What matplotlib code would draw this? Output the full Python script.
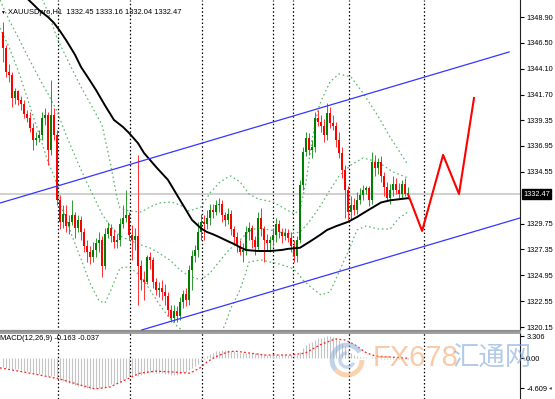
import numpy as np
import matplotlib
matplotlib.use('Agg')
from matplotlib import pyplot as plt
from matplotlib import transforms
from matplotlib.patches import Arc

plt.rcParams['font.family'] = ['Liberation Sans', 'DejaVu Sans']

# ---- XAUUSDpro H1 candles, oldest -> newest ----
open_first = 1347.5
closes = [1346.0, 1343.8, 1343.5, 1341.4, 1342.0, 1341.2, 1340.8, 1339.9, 1339.5, 1338.6,
          1337.5, 1337.7, 1338.0, 1339.5, 1339.8, 1336.6, 1339.8, 1338.0, 1331.9, 1329.9,
          1330.6, 1329.5, 1329.9, 1330.5, 1329.3, 1330.1, 1329.0, 1327.7, 1327.1, 1326.6,
          1327.3, 1327.9, 1328.2, 1325.8, 1328.8, 1329.3, 1328.6, 1328.0, 1328.2, 1329.7,
          1330.3, 1330.5, 1328.7, 1328.2, 1328.6, 1325.8, 1324.5, 1324.3, 1326.6, 1326.4,
          1324.3, 1323.6, 1323.8, 1323.4, 1323.0, 1321.7, 1321.0, 1321.6, 1321.2, 1322.5,
          1323.2, 1322.7, 1325.4, 1326.7, 1327.3, 1329.0, 1329.9, 1329.7, 1330.3, 1331.0,
          1330.8, 1331.5, 1331.6, 1330.5, 1330.1, 1330.6, 1329.2, 1328.5, 1327.7, 1327.1,
          1327.3, 1329.0, 1329.3, 1328.2, 1327.6, 1330.3, 1329.2, 1328.2, 1327.9, 1328.2,
          1328.7, 1329.7, 1329.0, 1328.6, 1328.9, 1328.4, 1327.7, 1326.7, 1328.2, 1333.3,
          1336.4, 1337.7, 1336.6, 1336.8, 1339.5, 1339.2, 1338.8, 1338.0, 1340.0, 1339.1,
          1338.8, 1337.5, 1336.3, 1334.7, 1332.9, 1330.8, 1331.5, 1331.0, 1331.9, 1332.4,
          1332.9, 1333.0, 1331.9, 1335.5, 1334.9, 1335.5, 1334.2, 1333.1, 1332.1, 1332.9,
          1333.4, 1332.9, 1332.5, 1333.4, 1332.45, 1332.47]
highs = [1348.4, 1346.3, 1344.5, 1343.8, 1342.3, 1342.1, 1341.6, 1341.2, 1340.3, 1340.1,
         1339.1, 1338.2, 1338.4, 1340.1, 1340.5, 1340.1, 1343.1, 1340.5, 1338.4, 1332.4,
         1331.5, 1331.5, 1330.5, 1331.9, 1330.8, 1330.5, 1330.4, 1329.3, 1328.2, 1327.7,
         1328.0, 1328.4, 1329.0, 1328.6, 1329.3, 1329.9, 1329.7, 1329.2, 1328.8, 1330.3,
         1331.5, 1332.9, 1330.8, 1329.6, 1329.3, 1336.1, 1326.4, 1325.3, 1326.8, 1327.1,
         1326.6, 1324.7, 1324.3, 1324.5, 1324.1, 1323.4, 1322.2, 1322.2, 1322.1, 1322.9,
         1323.6, 1323.8, 1325.9, 1327.3, 1327.8, 1329.9, 1330.6, 1330.5, 1331.0, 1331.6,
         1331.6, 1331.9, 1332.1, 1331.9, 1330.8, 1331.2, 1331.0, 1329.5, 1329.0, 1328.2,
         1327.9, 1329.5, 1329.9, 1329.6, 1328.6, 1330.8, 1331.2, 1329.5, 1328.8, 1328.6,
         1329.3, 1330.3, 1330.1, 1329.3, 1329.3, 1329.2, 1329.0, 1328.2, 1328.6, 1333.8,
         1336.8, 1338.2, 1338.1, 1337.5, 1340.1, 1340.3, 1339.8, 1339.4, 1340.9, 1340.6,
         1339.8, 1339.2, 1338.2, 1336.8, 1335.2, 1333.2, 1332.3, 1332.1, 1332.7, 1333.0,
         1333.3, 1333.2, 1333.2, 1336.4, 1336.1, 1335.8, 1336.0, 1334.5, 1333.6, 1333.4,
         1334.2, 1334.0, 1333.5, 1333.8, 1334.0, 1333.16]
lows = [1344.7, 1343.3, 1342.9, 1340.6, 1340.8, 1340.7, 1340.3, 1339.5, 1339.2, 1338.2,
        1336.6, 1337.0, 1337.3, 1337.5, 1338.9, 1335.2, 1336.1, 1337.5, 1331.5, 1329.2,
        1329.3, 1329.0, 1328.8, 1329.6, 1328.4, 1329.0, 1328.2, 1327.1, 1326.2, 1326.0,
        1326.2, 1326.6, 1327.1, 1324.8, 1325.5, 1328.4, 1328.0, 1327.5, 1327.5, 1327.7,
        1329.3, 1329.9, 1328.2, 1326.4, 1327.3, 1322.2, 1323.6, 1322.7, 1324.1, 1325.5,
        1323.8, 1323.1, 1322.9, 1322.7, 1322.2, 1321.2, 1320.6, 1320.6, 1320.6, 1320.8,
        1321.9, 1322.1, 1322.2, 1323.6, 1326.2, 1326.6, 1328.2, 1328.2, 1329.2, 1329.6,
        1330.3, 1330.5, 1330.8, 1329.9, 1329.5, 1329.7, 1328.7, 1327.9, 1327.1, 1326.8,
        1326.2, 1326.8, 1328.2, 1327.5, 1326.8, 1327.3, 1328.6, 1326.2, 1327.3, 1327.1,
        1327.7, 1328.0, 1328.4, 1327.9, 1328.2, 1328.0, 1327.1, 1326.2, 1326.2, 1327.9,
        1332.9, 1336.0, 1336.1, 1335.8, 1336.4, 1338.8, 1338.2, 1337.3, 1337.5, 1338.6,
        1338.4, 1336.8, 1335.8, 1334.0, 1330.3, 1330.1, 1330.1, 1330.5, 1330.6, 1331.6,
        1331.9, 1332.5, 1331.4, 1331.6, 1334.2, 1334.3, 1333.6, 1332.3, 1331.8, 1331.6,
        1332.3, 1332.5, 1332.1, 1332.1, 1332.3, 1332.04]

# moving average (black), read at bar positions
ma_bars = [7, 10, 12, 15, 17, 19, 21, 24, 26, 29, 31, 34, 37, 40, 42, 45, 47, 51, 55, 59,
           63, 66, 68, 70, 72, 75, 77, 79, 81, 85, 89, 93, 95, 97, 99, 101, 103, 106, 108,
           111, 115, 118, 120, 123, 126, 129, 132, 135]
ma_vals = [1350.9, 1350.1, 1349.55, 1348.9, 1348.35, 1347.6, 1346.77, 1345.4, 1344.27, 1343.0,
           1342.13, 1340.7, 1339.35, 1338.7, 1338.15, 1337.2, 1336.29, 1335.0, 1333.79, 1331.93,
           1330.08, 1329.3, 1328.96, 1328.75, 1328.5, 1328.1, 1327.85, 1327.55, 1327.29, 1327.2,
           1327.2, 1327.3, 1327.4, 1327.45, 1327.5, 1327.85, 1328.2, 1328.75, 1329.15, 1329.5,
           1329.9, 1330.35, 1330.7, 1331.2, 1331.7, 1331.9, 1332.0, 1332.1]

# Bollinger bands (green dotted), read at bar positions
bb_up_bars = [12, 15, 18, 22, 26, 29, 33, 36, 38, 39, 42, 46, 49, 52, 56, 59, 62, 66, 69, 72,
              75, 76, 79, 82, 85, 90, 94, 97, 99, 101, 103, 105, 106, 109, 112, 116, 120, 125,
              129, 132, 135]
bb_up_vals = [1351.2, 1349.37, 1346.96, 1344.64, 1342.41, 1340.93, 1338.89, 1335.09, 1332.12,
              1331.19, 1330.91, 1330.82, 1331.28, 1331.65, 1331.75, 1331.47, 1330.91, 1331.28,
              1332.58, 1333.51, 1334.07, 1334.16, 1333.6, 1332.49, 1332.03, 1331.75, 1331.1,
              1330.64, 1331.0, 1333.6, 1337.5, 1340.28, 1341.11, 1342.88, 1343.62, 1343.34,
              1341.86, 1339.72, 1337.77, 1336.48, 1335.18]
bb_mid_bars = [-1, 2, 5, 8, 12, 15, 18, 21, 25, 28, 30, 33, 36, 39, 42, 46, 49, 52, 56, 59,
               62, 66, 69, 72, 75, 79, 82, 85, 89, 92, 96, 99, 102, 106, 109, 112, 116, 120,
               125, 130, 135]
bb_mid_vals = [1350.48, 1348.63, 1347.05, 1345.38, 1343.25, 1341.76, 1340.19, 1337.96, 1335.36,
               1333.51, 1332.4, 1330.63, 1329.43, 1328.59, 1328.22, 1327.76, 1327.48, 1327.02,
               1326.27, 1325.44, 1324.88, 1324.51, 1325.16, 1326.18, 1327.2, 1328.22, 1329.06,
               1329.34, 1329.15, 1328.96, 1328.78, 1328.96, 1329.89, 1331.47, 1332.86, 1334.16,
               1335.18, 1335.83, 1335.46, 1334.53, 1333.97]
bb_lo_bars = [-1, 2, 5, 8, 12, 15, 17, 18, 19, 21, 23, 26, 29, 32, 34, 36, 38, 39, 42, 46,
              49, 52, 55, 58, 61, 66, 71, 74, 76, 79, 81, 82, 86, 89, 92, 96, 98, 100, 103,
              106, 109, 112, 116, 118, 121, 125, 129, 132, 135]
bb_lo_vals = [1347.88, 1346.12, 1343.99, 1341.48, 1338.05, 1335.46, 1334.16, 1333.32, 1331.47,
              1330.26, 1328.59, 1326.46, 1324.23, 1322.57, 1322.38, 1323.59, 1324.98, 1325.63,
              1325.72, 1324.88, 1323.59, 1322.29, 1321.17, 1320.25, 1319.5, 1318.76, 1318.76,
              1320.34, 1321.92, 1323.59, 1325.25, 1326.18, 1326.37, 1326.18, 1326.0, 1325.63,
              1325.25, 1324.51, 1323.77, 1323.12, 1323.4, 1325.25, 1327.76, 1329.15, 1329.52,
              1329.24, 1329.24, 1330.26, 1330.82]

# channel lines (bar, price)
chan_up_bars = [-1, 168.7]
chan_up_vals = [1331.65, 1345.66]
chan_lo_bars = [46.3, 172.3]
chan_lo_vals = [1319.88, 1330.26]

# forecast path (red)
fc_bars = [135, 139.7, 146.7, 152, 157]
fc_vals = [1332.47, 1329.06, 1336.11, 1332.49, 1341.39]

# period separators (bar positions)
separators = [18.33, 42.33, 66.33, 90, 96.67, 115.33, 140.33]

price_ticks = [1348.90, 1346.50, 1344.10, 1341.70, 1339.35, 1336.95, 1334.55,
               1329.75, 1327.35, 1324.95, 1322.55, 1320.15]
last_price = 1332.47

# MACD(12,26,9)
macd_main = [-1.4, -1.5, -1.5, -1.6, -1.6, -1.7, -1.8, -1.9, -2.0, -2.1, -2.3, -2.4,
             -2.5, -2.5, -2.6, -2.7, -2.7, -2.8, -3.0, -3.3, -3.5, -3.7, -3.8, -3.9,
             -4.1, -4.2, -4.3, -4.5, -4.6, -4.7, -4.7, -4.6, -4.5, -4.6, -4.4, -4.2,
             -4.0, -3.9, -3.8, -3.6, -3.3, -3.0, -2.8, -2.7, -2.6, -2.7, -2.6, -2.5,
             -2.3, -2.2, -2.2, -2.3, -2.3, -2.3, -2.4, -2.5, -2.6, -2.6, -2.6, -2.4,
             -2.2, -2.1, -1.8, -1.5, -1.2, -0.9, -0.5, -0.1, 0.3, 0.6, 0.8, 1.0,
             1.1, 1.2, 1.2, 1.2, 1.1, 1.0, 0.9, 0.8, 0.8, 0.8, 0.8, 0.7,
             0.7, 0.7, 0.6, 0.6, 0.5, 0.5, 0.5, 0.5, 0.5, 0.4, 0.4, 0.4,
             0.4, 0.3, 0.4, 0.9, 1.5, 2.0, 2.3, 2.5, 2.8, 3.0, 3.1, 3.2,
             3.3, 3.3, 3.2, 3.0, 2.7, 2.3, 1.8, 1.2, 0.8, 0.5, 0.3, 0.2,
             0.1, 0.1, 0.0, 0.1, 0.1, 0.0, -0.1, -0.1, -0.2, -0.2, -0.1, -0.1,
             -0.1, -0.2, -0.2, -0.163]
sig_bars = [-1, 9, 19, 25.7, 30.7, 35.7, 42.3, 45.7, 50.7, 55.7, 62.3, 65.7, 68, 70.7,
            74.7, 77.3, 82.3, 87.3, 95.7, 100.7, 105.7, 110.7, 114, 117.3, 120.7, 124, 129, 135]
sig_vals = [-1.5, -2.3, -3.2, -4.1, -4.7, -4.4, -3.0, -2.3, -2.0, -2.1, -2.3, -1.5, -0.6, 0.15,
            0.9, 1.05, 0.75, 0.45, 0.45, 0.75, 2.0, 2.9, 2.75, 2.0, 0.9, 0.3, 0.15, -0.037]
macd_ticks = [3.306, 0.0, -4.609]
macd_labels = ['3.306', '0.00', '-4.609']

W, H = 555, 399
fig = plt.figure(figsize=(W / 100, H / 100), dpi=100)
ax = fig.add_axes([0, (H - 331) / H, 520 / W, 331 / H])
axm = fig.add_axes([0, 0, 520 / W, 66 / H])

x = np.arange(len(closes))
c = np.array(closes)
o = np.concatenate([[open_first], c[:-1]])
hi = np.maximum(np.array(highs), np.maximum(o, c))
lo = np.minimum(np.array(lows), np.minimum(o, c))
up = c >= o

for a in (ax, axm):
    a.set_xlim(-1, 172.33)
    for s in separators:
        a.axvline(s, color='black', lw=0.9, ls=(0, (1.2, 1.8)), zorder=1)

# price line
ax.axhline(last_price, color='#c8c8c8', lw=1.2, zorder=1)

# bollinger bands
band_style = dict(color='#5cb870', lw=0.9, ls=(0, (1.3, 2.2)), zorder=2)
ax.plot(bb_up_bars, bb_up_vals, **band_style)
ax.plot(bb_mid_bars, bb_mid_vals, **band_style)
ax.plot(bb_lo_bars, bb_lo_vals, **band_style)

# candles
ax.vlines(x[up], lo[up], hi[up], color='#2e9a2e', lw=0.7, zorder=3)
ax.vlines(x[~up], lo[~up], hi[~up], color='#ff3030', lw=0.7, zorder=3)
body_b = np.minimum(o, c)
body_h = np.maximum(np.abs(c - o), 0.06)
ax.bar(x[up], body_h[up], bottom=body_b[up], width=0.62, color='#008000', lw=0, zorder=4)
ax.bar(x[~up], body_h[~up], bottom=body_b[~up], width=0.62, color='#ff0000', lw=0, zorder=4)

ax.plot(ma_bars, ma_vals, color='black', lw=1.4, zorder=5)
ax.plot(chan_up_bars, chan_up_vals, color='#3636ff', lw=0.9, zorder=5)
ax.plot(chan_lo_bars, chan_lo_vals, color='#3636ff', lw=0.9, zorder=5)
ax.plot(fc_bars, fc_vals, color='#ff0000', lw=1.5, zorder=5)

ax.set_ylim(1319.78, 1350.48)
ax.set_xticks([])
ax.yaxis.tick_right()
ax.set_yticks(price_ticks)
ax.set_yticklabels(['%.2f' % p for p in price_ticks])
ax.tick_params(axis='y', length=3, width=0.8, pad=1.5, labelsize=5.3)
for s in ('left', 'top'):
    ax.spines[s].set_visible(False)
ax.spines['right'].set_color('#202020')
ax.spines['bottom'].set_color('#909090')
ax.spines['bottom'].set_linewidth(1.6)

blend = transforms.blended_transform_factory(ax.transAxes, ax.transData)
ax.text(1.006, last_price, '%.2f' % last_price, transform=blend, color='white', fontsize=5.3,
        ha='left', va='center', zorder=10,
        bbox=dict(boxstyle='square,pad=0.2', facecolor='black', edgecolor='black'))

ax.text(8 / 520, 1 - 12 / 331, 'XAUUSDpro,H1  1332.45 1333.16 1332.04 1332.47',
        transform=ax.transAxes, fontsize=5.4, va='center', ha='left', zorder=2)
ax.text(0.0, 1 - 12 / 331, '\u25bc', transform=ax.transAxes, fontsize=3.5, va='center',
        ha='left', zorder=2)

# MACD panel
axm.vlines(x, 0, macd_main, color='#c4c4c4', lw=0.8, zorder=2)
axm.plot(sig_bars, sig_vals, color='#ff2020', lw=0.9, ls=(0, (1.5, 1.8)), zorder=3)
axm.set_ylim(-6.23, 3.8)
axm.set_xticks([])
axm.yaxis.tick_right()
axm.set_yticks(macd_ticks)
axm.set_yticklabels(macd_labels)
axm.tick_params(axis='y', length=3, width=0.8, pad=1.5, labelsize=5.3)
for s in ('left', 'bottom'):
    axm.spines[s].set_visible(False)
axm.spines['right'].set_color('#202020')
axm.spines['top'].set_color('#909090')
axm.spines['top'].set_linewidth(1.2)
axm.text(0.0, 1 - 6 / 66, 'MACD(12,26,9) -0.163 -0.037', transform=axm.transAxes,
         fontsize=5.4, va='center', ha='left')

# watermark
logo_c = (347 / W, 1 - 360 / H)
fig.add_artist(Arc(logo_c, 30 / W, 30 / H, theta1=40, theta2=230, transform=fig.transFigure,
                   color='#8fb0dc', lw=3.5, alpha=0.55))
fig.add_artist(Arc(logo_c, 30 / W, 30 / H, theta1=230, theta2=360, transform=fig.transFigure,
                   color='#f4b070', lw=3.5, alpha=0.55))
fig.add_artist(Arc(logo_c, 14 / W, 14 / H, theta1=90, theta2=330, transform=fig.transFigure,
                   color='#8fb0dc', lw=2.5, alpha=0.5))
fig.text(373 / W, 1 - 358 / H, 'FX678', fontsize=21, color='#f4a060', alpha=0.55,
         va='center', ha='left', family=['Liberation Sans Narrow', 'Liberation Sans'])
fig.text(453 / W, 1 - 358 / H, '汇通网', fontsize=19, color='#7fa8d8', alpha=0.6,
         va='center', ha='left', family=['Noto Sans CJK SC', 'DejaVu Sans'])
fig.text(552 / W, 1 - 388 / H, '\u25c2', fontsize=4, color='#404040', va='center', ha='right')

fig.savefig('out.png', dpi=100)
